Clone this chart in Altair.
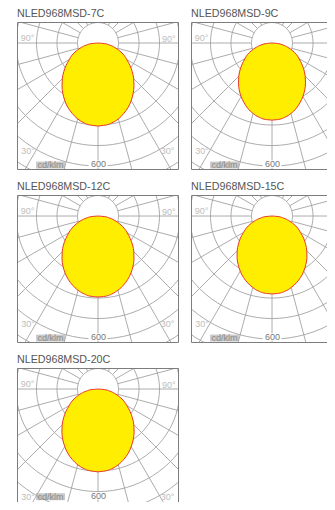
import altair as alt
import pandas as pd

# ---------------- data ----------------
titles = ["NLED968MSD-7C", "NLED968MSD-9C", "NLED968MSD-12C",
          "NLED968MSD-15C", "NLED968MSD-20C"]

# polar angle from nadir (deg)
angles = [0, 5, 10, 15, 20, 25, 30, 35, 40, 45, 50, 55, 60, 65, 70, 75, 80, 85, 90]

# luminous intensity (cd/klm)
i_7c = [405, 402, 395, 383, 366, 347, 324, 299, 273, 246, 218, 190, 162, 140, 112, 85, 58, 30, 0]
i_9c = [376, 374, 367, 356, 341, 322, 301, 279, 254, 229, 203, 177, 152, 131, 105, 79, 54, 28, 0]
i_12c = [395, 393, 386, 375, 360, 342, 321, 298, 273, 247, 220, 192, 165, 141, 113, 86, 58, 30, 0]
i_15c = [380, 378, 372, 361, 347, 330, 310, 288, 265, 240, 214, 188, 161, 138, 111, 84, 56, 30, 0]
i_20c = [404, 401, 394, 382, 366, 347, 324, 300, 274, 247, 219, 191, 163, 140, 112, 85, 58, 30, 0]
series = [i_7c, i_9c, i_12c, i_15c, i_20c]

ring_values = [100, 200, 300, 400, 500, 600, 700]
spoke_angles = list(range(0, 360, 15))
ring_steps = list(range(0, 361, 4))

angle_labels = ["90°", "90°", "30°", "30°"]
angle_label_x = [-343, 345, -341, 339]
angle_label_y = [-24, -22, 527, 527]
angle_label_side = ["L", "R", "L", "R"]

# ---------------- tables ----------------
ring_df = pd.DataFrame([{"r": r, "a": a} for r in ring_values for a in ring_steps])
spoke_df = pd.DataFrame({"a": spoke_angles, "r0": 100, "r1": 800})
lab_df = pd.DataFrame({"t": angle_labels, "x": angle_label_x, "y": angle_label_y,
                       "side": angle_label_side})

GRID = "#a3a3a3"
FONT = "Liberation Sans"
K = 162 / 790.0  # px per cd/klm


def panel(title, intens, W, H, right_open=False, bottom_open=False, unit_dy=0):
    xs = alt.Scale(domain=[-395, -395 + W / K])
    ys = alt.Scale(domain=[-102.5, -102.5 + H / K], reverse=True)

    def X(f):
        return alt.X(f, type="quantitative", scale=xs, axis=None)

    def Y(f):
        return alt.Y(f, type="quantitative", scale=ys, axis=None)

    rings = alt.Chart(ring_df).transform_calculate(
        x="datum.r*sin(datum.a*PI/180)", y="datum.r*cos(datum.a*PI/180)"
    ).mark_line(clip=True, color=GRID, strokeWidth=0.9).encode(
        x=X("x"), y=Y("y"), detail="r:N", order="a:Q")

    spokes = alt.Chart(spoke_df).transform_calculate(
        xa="datum.r0*sin(datum.a*PI/180)", ya="datum.r0*cos(datum.a*PI/180)",
        xb="datum.r1*sin(datum.a*PI/180)", yb="datum.r1*cos(datum.a*PI/180)"
    ).mark_rule(clip=True, color=GRID, strokeWidth=0.9).encode(
        x=X("xa"), y=Y("ya"), x2="xb:Q", y2="yb:Q")

    unit_bg = alt.Chart(pd.DataFrame({"x": [-302], "x2": [-161], "y": [578 + unit_dy],
                                      "y2": [612 + unit_dy]})).mark_rect(
        color="#c9c9c9", clip=True).encode(x=X("x"), x2="x2:Q", y=Y("y"), y2="y2:Q")

    val_bg = alt.Chart(pd.DataFrame({"x": [-46], "x2": [46], "y": [572 + unit_dy],
                                     "y2": [608 + unit_dy]})).mark_rect(
        color="white", clip=True).encode(x=X("x"), x2="x2:Q", y=Y("y"), y2="y2:Q")

    blob = alt.Chart(pd.DataFrame({"a": angles, "I": intens})).transform_calculate(
        xr="datum.I*sin(datum.a*PI/180)", xl="-datum.I*sin(datum.a*PI/180)",
        y="datum.I*cos(datum.a*PI/180)"
    ).mark_area(orient="horizontal", fill="#FFEE00", stroke="#E8382A", strokeWidth=1,
                interpolate="monotone", clip=True).encode(x=X("xl"), x2="xr:Q", y=Y("y"))

    lab_data = lab_df[lab_df["side"] == "L"] if right_open else lab_df
    labs = alt.Chart(lab_data).mark_text(font=FONT, fontSize=9, color="#bdbdbd",
                                         baseline="middle", clip=True).encode(
        x=X("x"), y=Y("y"), text="t:N")

    unit_txt = alt.Chart(pd.DataFrame({"t": ["cd/klm"], "x": [-232], "y": [596 + unit_dy]})).mark_text(
        font=FONT, fontSize=9, color="#8c8c8c", baseline="middle", clip=True).encode(
        x=X("x"), y=Y("y"), text="t:N")

    val_txt = alt.Chart(pd.DataFrame({"t": ["600"], "x": [2], "y": [590 + unit_dy]})).mark_text(
        font=FONT, fontSize=9, color="#777777", baseline="middle", clip=True).encode(
        x=X("x"), y=Y("y"), text="t:N")

    border = alt.Chart(pd.DataFrame({"k": [0]})).mark_rect(
        filled=False, stroke="#7d7d7d", strokeWidth=1, clip=True).encode(
        x=alt.value(0.5), x2=alt.value(W + 6 if right_open else W - 0.5),
        y=alt.value(0.5), y2=alt.value(H + 6 if bottom_open else H - 0.5))

    return alt.layer(unit_bg, rings, spokes, val_bg, blob, labs, unit_txt, val_txt, border).properties(
        width=W, height=H,
        title=alt.TitleParams(title, anchor="start", fontSize=10.7, color="#555555",
                              font=FONT, fontWeight="normal", offset=2))


p1 = panel(titles[0], series[0], 162, 148)
p2 = panel(titles[1], series[1], 136, 148, right_open=True)
p3 = panel(titles[2], series[2], 162, 148)
p4 = panel(titles[3], series[3], 136, 148, right_open=True)
p5 = panel(titles[4], series[4], 162, 134, bottom_open=True, unit_dy=-70)

chart = alt.vconcat(
    alt.hconcat(p1, p2, spacing=12),
    alt.hconcat(p3, p4, spacing=12),
    p5,
    spacing=11,
).properties(
    padding={"left": 9, "top": 0, "right": 0, "bottom": 0}
).configure_view(strokeWidth=0)

chart.save("out.html", embed_options={"renderer": "svg", "actions": False})
